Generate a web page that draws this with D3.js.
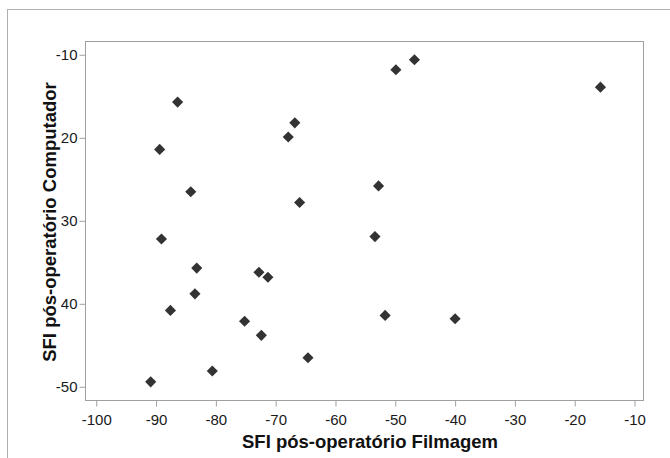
<!DOCTYPE html>
<html>
<head>
<meta charset="utf-8">
<script src="https://cdn.jsdelivr.net/npm/d3@7"></script>
<style>
  body { margin: 0; background: #fff; }
  svg { display: block; }
</style>
</head>
<body>
<svg id="chart"></svg>
<script>
// SFI pós-operatório: Filmagem (x) vs Computador (y)
const filmagem = [
  -86.4, -89.4, -84.2, -66.8, -67.9, -66.0,
  -89.1, -83.2, -72.8, -71.3, -83.5, -87.6, -75.2, -72.4, -64.6, -80.6, -90.9,
  -46.8, -49.9, -52.8, -53.4, -51.7, -40.0,
  -15.7
];
const computador = [
  -15.7, -21.4, -26.5, -18.2, -19.9, -27.8,
  -32.2, -35.7, -36.2, -36.8, -38.8, -40.8, -42.1, -43.8, -46.5, -48.1, -49.4,
  -10.6, -11.8, -25.8, -31.9, -41.4, -41.8,
  -13.9
];
const xTicks = [-100, -90, -80, -70, -60, -50, -40, -30, -20, -10];
const yTicks = [-10, -20, -30, -40, -50];
const xTitle = 'SFI pós-operatório Filmagem';
const yTitle = 'SFI pós-operatório Computador';

const W = 670, H = 458;
const plot = { left: 85.5, top: 41.5, right: 643.5, bottom: 400.5 };

const svg = d3.select('#chart').attr('width', W).attr('height', H);

// outer frame (only left/top edges visible)
svg.append('rect')
  .attr('x', 7.5).attr('y', 9.5)
  .attr('width', 800).attr('height', 600)
  .attr('fill', 'none')
  .attr('stroke', '#b0b0b0');

const x = d3.scaleLinear().domain([-101.8, -8.5]).range([plot.left, plot.right]);
const y = d3.scaleLinear().domain([-51.65, -8.4]).range([plot.bottom, plot.top]);

// plot frame
svg.append('rect')
  .attr('x', plot.left).attr('y', plot.top)
  .attr('width', plot.right - plot.left).attr('height', plot.bottom - plot.top)
  .attr('fill', 'none')
  .attr('stroke', '#a0a0a0');

const xAxis = svg.append('g')
  .attr('transform', `translate(0,${plot.bottom})`)
  .call(d3.axisBottom(x).tickValues(xTicks).tickSize(6).tickPadding(8).tickFormat(d => d));
const yAxis = svg.append('g')
  .attr('transform', `translate(${plot.left},0)`)
  .call(d3.axisLeft(y).tickValues(yTicks).tickSize(6).tickPadding(2).tickFormat(d => d));

[xAxis, yAxis].forEach(a => {
  a.select('.domain').remove();
  a.selectAll('.tick line').attr('stroke', '#a0a0a0');
  a.selectAll('.tick text')
    .attr('fill', '#1a1a1a')
    .style('font-family', '"Liberation Sans", Arial, sans-serif')
    .style('font-size', '15px');
});

// points (diamonds)
const sym = d3.symbol().type(d3.symbolSquare).size(62);
svg.append('g').selectAll('path')
  .data(filmagem.map((v, i) => [v, computador[i]]))
  .enter().append('path')
  .attr('d', sym)
  .attr('transform', d => `translate(${x(d[0])},${y(d[1])}) rotate(45)`)
  .attr('fill', '#333');

// axis titles
svg.append('text')
  .attr('x', 370).attr('y', 448)
  .attr('text-anchor', 'middle')
  .style('font-family', '"Liberation Sans", Arial, sans-serif')
  .style('font-size', '18.5px')
  .style('font-weight', 'bold')
  .attr('fill', '#111')
  .text(xTitle);

// y title sits on an opaque box, which hides the minus signs of the tick labels behind it
const tx = 56;
const boxRight = 61;
const cy = (plot.top + plot.bottom) / 2 + 1;
const yt = svg.append('g');
const ytBox = yt.append('rect').attr('fill', '#fff');
const ytText = yt.append('text')
  .attr('transform', `translate(${tx},${cy}) rotate(-90)`)
  .attr('text-anchor', 'middle')
  .style('font-family', '"Liberation Sans", Arial, sans-serif')
  .style('font-size', '18.5px')
  .style('font-weight', 'bold')
  .attr('fill', '#111')
  .text(yTitle);
const bb = ytText.node().getBBox();
// bbox is in rotated coordinates: width runs along y, height along x
ytBox
  .attr('x', tx + bb.y)
  .attr('y', cy - bb.width / 2 - 2)
  .attr('width', boxRight - (tx + bb.y))
  .attr('height', bb.width + 4);
</script>
</body>
</html>
